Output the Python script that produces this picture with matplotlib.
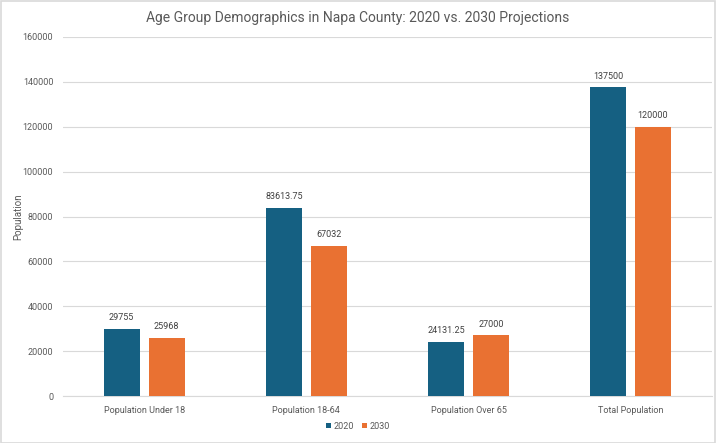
import matplotlib
matplotlib.use("Agg")
import matplotlib.pyplot as plt
import numpy as np
from matplotlib.patches import Rectangle

plt.rcParams['font.family'] = ['Roboto', 'DejaVu Sans']

categories = ["Population Under 18", "Population 18-64", "Population Over 65", "Total Population"]
values_2020 = [29755, 83613.75, 24131.25, 137500]
values_2030 = [25968, 67032, 27000, 120000]
labels_2020 = ["29755", "83613.75", "24131.25", "137500"]
labels_2030 = ["25968", "67032", "27000", "120000"]
yticks = [0, 20000, 40000, 60000, 80000, 100000, 120000, 140000, 160000]

blue = "#156082"
orange = "#E97132"
grey = "#595959"

fig = plt.figure(figsize=(7.16, 4.43), dpi=100)
ax = fig.add_axes([0.088, 0.106, 0.906, 0.8105])

x = np.arange(len(categories))
w = 0.222
gap = 0.055
b1 = ax.bar(x - (w + gap) / 2, values_2020, w, color=blue, label="2020", zorder=3)
b2 = ax.bar(x + (w + gap) / 2, values_2030, w, color=orange, label="2030", zorder=3)

for bars, labs in ((b1, labels_2020), (b2, labels_2030)):
    for r, t in zip(bars, labs):
        ax.annotate(t, (r.get_x() + r.get_width() / 2, r.get_height()),
                    xytext=(0, 5), textcoords="offset points",
                    ha="center", va="bottom", fontsize=6.5, color="#404040")

ax.set_xlim(-0.5, len(categories) - 0.5)
ax.set_ylim(0, 160000)
ax.set_yticks(yticks)
ax.set_yticklabels([str(v) for v in yticks])
ax.set_xticks(x)
ax.set_xticklabels(categories)
ax.tick_params(axis="both", length=0, labelsize=6.5, labelcolor=grey)
ax.tick_params(axis="x", pad=7)
ax.tick_params(axis="y", pad=7)
ax.grid(axis="y", color="#D9D9D9", linewidth=0.8, zorder=0)
for s in ("top", "right", "left"):
    ax.spines[s].set_visible(False)
ax.spines["bottom"].set_color("#D9D9D9")
ax.set_ylabel("Population", fontsize=7, color=grey)
ax.yaxis.set_label_coords(-0.061, 0.5)

fig.suptitle("Age Group Demographics in Napa County: 2020 vs. 2030 Projections",
             y=0.975, fontsize=10, color=grey)

fig.legend(handles=[b1, b2], labels=["2020", "2030"], loc="center",
           bbox_to_anchor=(0.5, 0.038), ncol=2, frameon=False, fontsize=6.5,
           labelcolor=grey, handlelength=0.6, handleheight=0.6, handletextpad=0.3,
           columnspacing=0.8)

fig.patches.append(Rectangle((0.001, 0.001), 0.997, 0.996, transform=fig.transFigure,
                             fill=False, edgecolor="#D9D9D9", linewidth=1.2))

fig.savefig("out.png", dpi=100)
